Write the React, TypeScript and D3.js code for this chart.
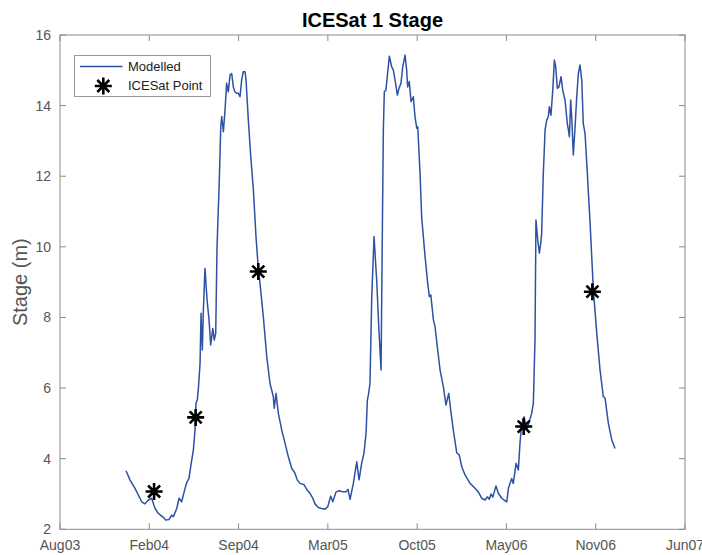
import React from "react";
import * as d3 from "d3";

// time in decimal years, stage in metres
const time = [
  2004.002, 2004.026, 2004.057, 2004.098, 2004.118, 2004.139, 2004.159, 2004.180, 2004.200, 2004.231,
  2004.245, 2004.266, 2004.282, 2004.292, 2004.313, 2004.327, 2004.343, 2004.364, 2004.374, 2004.388,
  2004.400, 2004.415, 2004.425, 2004.431, 2004.439, 2004.445, 2004.456, 2004.462, 2004.470, 2004.476,
  2004.486, 2004.499, 2004.511, 2004.521, 2004.534, 2004.543, 2004.552, 2004.560, 2004.574, 2004.583,
  2004.589, 2004.599, 2004.609, 2004.619, 2004.629, 2004.640, 2004.650, 2004.660, 2004.670, 2004.681,
  2004.691, 2004.701, 2004.711, 2004.721, 2004.732, 2004.738, 2004.752, 2004.767, 2004.783, 2004.799,
  2004.813, 2004.824, 2004.844, 2004.865, 2004.885, 2004.905, 2004.911, 2004.922, 2004.936, 2004.957,
  2004.977, 2004.997, 2005.018, 2005.038, 2005.052, 2005.069, 2005.094, 2005.110, 2005.130, 2005.147,
  2005.161, 2005.181, 2005.202, 2005.222, 2005.239, 2005.257, 2005.270, 2005.290, 2005.310, 2005.331,
  2005.351, 2005.363, 2005.376, 2005.396, 2005.417, 2005.431, 2005.447, 2005.461, 2005.474, 2005.482,
  2005.490, 2005.498, 2005.509, 2005.523, 2005.539, 2005.553, 2005.566, 2005.574, 2005.580, 2005.586,
  2005.596, 2005.604, 2005.617, 2005.631, 2005.641, 2005.652, 2005.666, 2005.676, 2005.688, 2005.699,
  2005.713, 2005.723, 2005.729, 2005.739, 2005.750, 2005.764, 2005.774, 2005.785, 2005.791, 2005.805,
  2005.815, 2005.836, 2005.852, 2005.862, 2005.871, 2005.887, 2005.897, 2005.911, 2005.928, 2005.948,
  2005.964, 2005.981, 2005.993, 2006.009, 2006.030, 2006.046, 2006.061, 2006.081, 2006.112, 2006.142,
  2006.162, 2006.183, 2006.204, 2006.218, 2006.230, 2006.240, 2006.251, 2006.271, 2006.285, 2006.306,
  2006.320, 2006.337, 2006.347, 2006.367, 2006.377, 2006.394, 2006.408, 2006.418, 2006.429, 2006.443,
  2006.459, 2006.475, 2006.490, 2006.500, 2006.510, 2006.516, 2006.527, 2006.537, 2006.545, 2006.551,
  2006.561, 2006.572, 2006.582, 2006.592, 2006.598, 2006.608, 2006.619, 2006.629, 2006.637, 2006.647,
  2006.657, 2006.670, 2006.680, 2006.694, 2006.708, 2006.715, 2006.721, 2006.729, 2006.737, 2006.745,
  2006.756, 2006.766, 2006.776, 2006.786, 2006.797, 2006.806, 2006.817, 2006.831, 2006.848, 2006.868,
  2006.889, 2006.909, 2006.929, 2006.940, 2006.960, 2006.981, 2007.001,
];

const stage = [
  3.66, 3.40, 3.16, 2.78, 2.72, 2.83, 2.88, 2.59, 2.45, 2.34,
  2.26, 2.28, 2.40, 2.36, 2.59, 2.88, 2.78, 3.16, 3.32, 3.44,
  3.82, 4.25, 4.81, 5.57, 5.66, 5.95, 6.70, 8.12, 7.08, 8.16,
  9.39, 8.49, 7.93, 7.22, 7.69, 7.36, 7.55, 10.00, 11.89, 13.40,
  13.69, 13.26, 13.87, 14.63, 14.39, 14.87, 14.91, 14.53, 14.39, 14.35,
  14.35, 14.25, 14.72, 14.96, 14.96, 14.72, 13.59, 12.55, 11.61, 10.29,
  9.40, 8.95, 8.02, 6.89, 6.13, 5.76, 5.43, 5.85, 5.29, 4.81,
  4.44, 4.06, 3.73, 3.59, 3.40, 3.30, 3.26, 3.13, 3.02, 2.88,
  2.72, 2.62, 2.59, 2.57, 2.64, 2.94, 2.78, 3.06, 3.09, 3.06,
  3.06, 3.13, 2.85, 3.30, 3.91, 3.40, 3.87, 4.15, 4.72, 5.66,
  5.85, 6.13, 8.59, 10.29, 9.06, 7.64, 6.51, 10.48, 13.31, 14.39,
  14.44, 14.82, 15.40, 15.10, 15.01, 14.72, 14.30, 14.49, 14.63, 15.10,
  15.43, 15.01, 14.53, 14.68, 14.11, 14.25, 13.69, 13.36, 13.40, 12.08,
  10.85, 9.72, 8.97, 8.59, 8.64, 7.93, 7.74, 7.17, 6.51, 6.04,
  5.52, 5.85, 5.38, 4.81, 4.17, 4.10, 3.77, 3.54, 3.30, 3.16,
  3.06, 2.88, 2.83, 2.92, 2.85, 3.00, 2.91, 3.23, 3.02, 2.88,
  2.83, 2.78, 3.16, 3.44, 3.30, 3.87, 3.68, 4.44, 5.00, 5.19,
  4.81, 5.05, 5.29, 5.57, 7.36, 10.76, 10.19, 9.82, 10.10, 10.38,
  12.08, 13.31, 13.59, 13.69, 13.97, 13.73, 14.44, 15.29, 15.10, 14.49,
  14.53, 14.82, 14.44, 14.16, 13.50, 13.31, 13.12, 14.16, 13.50, 12.60,
  13.40, 14.25, 14.91, 15.15, 14.72, 13.50, 13.21, 12.08, 10.67, 8.78,
  7.55, 6.51, 5.76, 5.71, 5.00, 4.53, 4.29,
];

const iceTime = [2004.174, 2004.429, 2004.813, 2006.441, 2006.862];
const iceStage = [3.07, 5.17, 9.30, 4.91, 8.73];

const xTickLabels = ["Aug03", "Feb04", "Sep04", "Mar05", "Oct05", "May06", "Nov06", "Jun07"];
const xDomain = [2003.597, 2007.430];
const yTicks = [2, 4, 6, 8, 10, 12, 14, 16];

const W = 702;
const H = 555;
const M = { left: 60, right: 685, top: 35, bottom: 529.3 };

function starPath(r: number) {
  const d = r * 0.7071;
  return `M${-r},0H${r}M0,${-r}V${r}M${-d},${-d}L${d},${d}M${-d},${d}L${d},${-d}`;
}

export default function App() {
  const x = d3.scaleLinear().domain(xDomain).range([M.left, M.right]);
  const y = d3.scaleLinear().domain([2, 16]).range([M.bottom, M.top]);
  const n = xTickLabels.length - 1;
  const xTicks = xTickLabels.map((lab, i) => ({
    lab,
    v: xDomain[0] + (i * (xDomain[1] - xDomain[0])) / n,
  }));
  const pts = time.map((t, i) => [t, stage[i]] as [number, number]);
  const line = d3
    .line<[number, number]>()
    .x((d) => x(d[0]))
    .y((d) => y(d[1]));
  const axisColor = "#8c8c8c";
  const textColor = "#555";
  const lineColor = "#2d52a3";
  const tickLen = 6;
  const font = "Liberation Sans, Arial, Helvetica, sans-serif";
  const star = starPath(8.5);

  return (
    <svg
      width={W}
      height={H}
      style={{ position: "absolute", left: 0, top: 0, background: "#fff" }}
      fontFamily={font}
    >
      <rect x={0} y={0} width={W} height={H} fill="#fff" />
      {/* plot line */}
      <path d={line(pts) || ""} fill="none" stroke={lineColor} strokeWidth={1.5} strokeLinejoin="round" />
      {/* ICESat points */}
      {iceTime.map((t, i) => (
        <path
          key={i}
          d={star}
          transform={`translate(${x(t)},${y(iceStage[i])})`}
          stroke="#000"
          strokeWidth={2.6}
          fill="none"
        />
      ))}
      {/* axes box */}
      <rect
        x={M.left}
        y={M.top}
        width={M.right - M.left}
        height={M.bottom - M.top}
        fill="none"
        stroke={axisColor}
        strokeWidth={1}
      />
      {xTicks.map((t, i) => (
        <g key={i}>
          <line x1={x(t.v)} x2={x(t.v)} y1={M.bottom} y2={M.bottom - tickLen} stroke={axisColor} />
          <line x1={x(t.v)} x2={x(t.v)} y1={M.top} y2={M.top + tickLen} stroke={axisColor} />
          <text x={x(t.v)} y={550} textAnchor="middle" fontSize={14} fill={textColor}>
            {t.lab}
          </text>
        </g>
      ))}
      {yTicks.map((v, i) => (
        <g key={i}>
          <line x1={M.left} x2={M.left + tickLen} y1={y(v)} y2={y(v)} stroke={axisColor} />
          <line x1={M.right} x2={M.right - tickLen} y1={y(v)} y2={y(v)} stroke={axisColor} />
          <text x={51} y={y(v) + 5} textAnchor="end" fontSize={14} fill={textColor}>
            {v}
          </text>
        </g>
      ))}
      {/* title */}
      <text x={(M.left + M.right) / 2} y={27} textAnchor="middle" fontSize={20} fontWeight="bold" fill="#000">
        ICESat 1 Stage
      </text>
      {/* y label */}
      <text
        transform={`translate(27,${(M.top + M.bottom) / 2}) rotate(-90)`}
        textAnchor="middle"
        fontSize={20}
        fill={textColor}
      >
        Stage (m)
      </text>
      {/* legend */}
      <g>
        <rect x={74.5} y={55.5} width={136} height={41} fill="#fff" stroke="#999" strokeWidth={1} />
        <line x1={80} x2={122.5} y1={66.5} y2={66.5} stroke={lineColor} strokeWidth={1.5} />
        <text x={128} y={71} fontSize={13} fill="#222">
          Modelled
        </text>
        <path d={star} transform="translate(103.3,86)" stroke="#000" strokeWidth={2.6} fill="none" />
        <text x={128} y={89.5} fontSize={13} fill="#222">
          ICESat Point
        </text>
      </g>
    </svg>
  );
}
